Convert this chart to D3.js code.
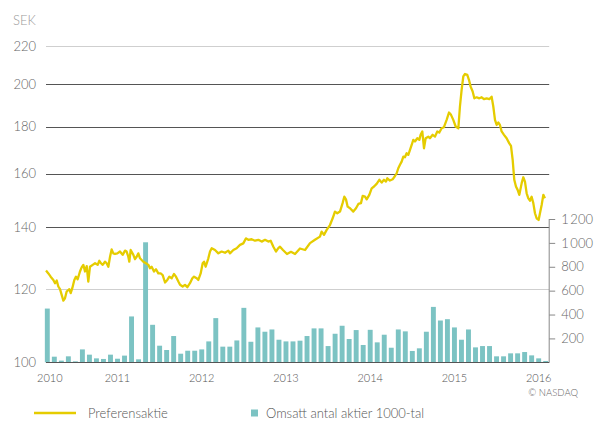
<!DOCTYPE html>
<html>
<head>
<meta charset="utf-8">
<script src="https://cdn.jsdelivr.net/npm/d3@7"></script>
<style>
  body { margin: 0; background: #fff; }
  svg text { font-family: Lato, "Open Sans", sans-serif; font-weight: 300; }
</style>
</head>
<body>
<svg id="chart" width="596" height="423"></svg>
<script>
// price, SEK (decimal year, value)
var priceTime = [2010.193,2010.221,2010.248,2010.280,2010.300,2010.320,2010.339,2010.359,2010.379,2010.399,2010.418,2010.438,2010.470,2010.486,2010.505,2010.529,2010.549,2010.569,2010.596,2010.616,2010.636,2010.656,2010.676,2010.695,2010.715,2010.747,2010.775,2010.806,2010.826,2010.846,2010.866,2010.893,2010.913,2010.933,2010.953,2010.972,2010.992,2011.012,2011.040,2011.071,2011.103,2011.131,2011.150,2011.170,2011.182,2011.198,2011.230,2011.249,2011.269,2011.289,2011.309,2011.348,2011.380,2011.408,2011.427,2011.447,2011.475,2011.499,2011.526,2011.554,2011.578,2011.606,2011.633,2011.657,2011.685,2011.712,2011.736,2011.764,2011.784,2011.815,2011.843,2011.871,2011.902,2011.930,2011.950,2011.982,2012.001,2012.029,2012.053,2012.069,2012.088,2012.120,2012.140,2012.160,2012.199,2012.239,2012.278,2012.318,2012.357,2012.377,2012.417,2012.456,2012.496,2012.535,2012.567,2012.595,2012.634,2012.674,2012.714,2012.753,2012.793,2012.832,2012.860,2012.892,2012.923,2012.951,2012.971,2013.006,2013.054,2013.101,2013.149,2013.208,2013.268,2013.327,2013.386,2013.445,2013.465,2013.493,2013.525,2013.564,2013.596,2013.623,2013.651,2013.683,2013.714,2013.734,2013.754,2013.774,2013.802,2013.841,2013.873,2013.901,2013.932,2013.952,2013.980,2014.000,2014.031,2014.059,2014.087,2014.118,2014.150,2014.178,2014.205,2014.229,2014.245,2014.276,2014.308,2014.336,2014.356,2014.375,2014.395,2014.415,2014.435,2014.454,2014.474,2014.494,2014.514,2014.534,2014.553,2014.573,2014.601,2014.625,2014.640,2014.660,2014.680,2014.700,2014.731,2014.751,2014.783,2014.811,2014.838,2014.862,2014.890,2014.917,2014.949,2014.977,2015.001,2015.028,2015.056,2015.088,2015.107,2015.127,2015.147,2015.167,2015.194,2015.214,2015.234,2015.258,2015.278,2015.305,2015.337,2015.365,2015.392,2015.424,2015.456,2015.483,2015.503,2015.523,2015.543,2015.562,2015.582,2015.602,2015.630,2015.661,2015.693,2015.713,2015.733,2015.752,2015.772,2015.792,2015.812,2015.840,2015.859,2015.879,2015.899,2015.919,2015.938,2015.958,2015.978,2015.998,2016.017,2016.041,2016.057,2016.077,2016.097,2016.116];
var priceValues = [125.7,124.8,123.8,122.8,121.8,122.6,120.8,120.0,118.3,116.6,117.3,119.3,120.0,118.8,120.3,122.8,123.8,123.0,125.4,126.7,127.5,125.4,127.1,122.3,126.9,127.5,128.0,127.5,128.8,128.0,127.5,128.5,128.0,126.9,130.1,132.5,131.2,131.0,131.2,131.8,130.7,132.1,131.8,130.1,128.5,132.3,130.7,129.3,130.1,131.2,129.6,128.5,128.0,127.5,126.4,126.9,125.4,126.1,124.8,124.8,124.3,122.0,122.8,123.8,123.3,124.6,123.8,122.3,121.3,120.8,121.3,120.6,121.8,123.3,123.8,123.3,122.8,124.8,128.0,128.5,126.9,129.6,131.8,132.9,132.3,131.2,131.8,131.4,132.1,131.2,132.3,132.9,134.0,134.5,136.2,135.7,135.9,135.4,135.7,135.1,135.7,135.1,135.4,133.4,131.8,132.9,133.4,132.3,131.0,131.7,131.0,132.8,132.3,134.6,135.7,136.8,138.5,137.4,139.1,140.8,143.2,145.6,145.0,145.6,148.7,151.1,150.1,147.4,146.8,145.6,146.8,148.4,148.7,151.4,151.1,150.1,151.8,154.3,155.0,156.0,157.6,156.5,157.6,156.9,158.2,157.3,157.8,159.1,160.2,162.2,163.6,164.9,167.0,166.7,168.4,167.7,169.8,171.9,174.1,173.4,174.8,174.1,176.3,177.8,170.5,174.8,175.5,174.8,176.3,175.5,177.8,177.3,179.2,179.7,183.0,186.4,185.3,183.0,180.0,179.2,189.2,197.2,203.9,205.2,204.7,202.2,198.8,196.4,193.1,193.6,193.1,193.6,192.7,193.1,192.7,193.9,189.2,183.0,180.7,181.8,180.7,177.8,176.3,174.8,172.6,171.5,165.6,157.6,155.0,153.7,151.8,156.3,158.6,156.9,152.4,150.5,149.6,151.1,148.7,145.0,143.2,142.6,145.0,148.0,151.8,150.5];

// monthly volume, 1000-tal, from mars 2010
var volumeValues = [450,47,14,50,8,108,64,33,28,64,30,56,384,25,1005,314,139,103,220,72,97,97,108,175,370,131,131,183,456,172,292,256,275,189,175,175,181,220,284,284,136,239,306,195,270,145,272,167,231,122,275,259,95,117,256,464,350,361,292,189,275,125,136,136,50,50,75,75,86,58,33,11];
var months = d3.timeMonth.range(new Date(2010, 2, 1), new Date(2016, 2, 1));

var priceTicks = [100, 120, 140, 160, 180, 200, 220];
var volumeTicks = [200, 400, 600, 800, 1000, 1200];
var yearLabels = [2010, 2011, 2012, 2013, 2014, 2015, 2016];

var svg = d3.select("#chart");
var left = 43.8, right = 549.2;

var x = d3.scaleLinear().domain([2010 + 2/12, 2016 + 2/12]).range([left, right]);
var xb = d3.scaleBand().domain(d3.range(months.length)).range([left, right]).paddingInner(0.3).paddingOuter(0.15);
var y = d3.scaleLog().domain([100, 220]).range([362.3, 46]);
var yv = d3.scaleLinear().domain([0, 1200]).range([362.3, 219]);

// grid lines
var lightLines = [220, 120];
svg.append("g").selectAll("line")
  .data(priceTicks)
  .enter().append("line")
    .attr("x1", 46).attr("x2", right)
    .attr("y1", function(d) { return Math.round(y(d)) + 0.5; })
    .attr("y2", function(d) { return Math.round(y(d)) + 0.5; })
    .attr("stroke", function(d) { return lightLines.indexOf(d) >= 0 ? "#cfcfcf" : "#555"; })
    .attr("stroke-width", 1);

svg.append("g").selectAll("text")
  .data(priceTicks)
  .enter().append("text")
    .attr("x", 36)
    .attr("y", function(d) { return y(d); })
    .attr("dy", "0.35em")
    .attr("text-anchor", "end")
    .attr("font-size", 13)
    .attr("fill", "#666")
    .text(function(d) { return d; });

svg.append("text")
  .attr("x", 13).attr("y", 25)
  .attr("font-size", 13)
  .attr("fill", "#9a9a9a")
  .text("SEK");

// volume bars
svg.append("g").selectAll("rect")
  .data(volumeValues)
  .enter().append("rect")
    .attr("x", function(d, i) { return xb(i); })
    .attr("width", xb.bandwidth())
    .attr("y", function(d) { return yv(d); })
    .attr("height", function(d) { return yv(0) - yv(d); })
    .attr("fill", "#7cc3c3");

// right axis
var rightAxis = d3.axisRight(yv).tickValues(volumeTicks).tickSize(6).tickPadding(6)
  .tickFormat(function(d) { return d >= 1000 ? d3.format(",")(d).replace(",", "\u2009") : d; });
var ra = svg.append("g")
  .attr("transform", "translate(" + right + ",0)")
  .call(rightAxis);
ra.select(".domain").attr("stroke", "#888").attr("d", "M0," + yv(1200) + "V" + yv(0));
ra.selectAll(".tick line").attr("stroke", "#888");
ra.selectAll(".tick text").attr("font-size", 13).attr("fill", "#666")
  .style("font-family", "Lato, 'Open Sans', sans-serif").style("font-weight", 300);

// baseline
svg.append("line")
  .attr("x1", 46).attr("x2", right)
  .attr("y1", 362.5).attr("y2", 362.5)
  .attr("stroke", "#555");

// price line
var line = d3.line()
  .x(function(d, i) { return x(priceTime[i]); })
  .y(function(d) { return y(d); });
svg.append("path")
  .datum(priceValues)
  .attr("d", line)
  .attr("fill", "none")
  .attr("stroke", "#e5cc00")
  .attr("stroke-width", 2.3)
  .attr("stroke-linejoin", "round");

// year labels
svg.append("g").selectAll("text")
  .data(yearLabels)
  .enter().append("text")
    .attr("x", function(d) { return xb(Math.max(0, (d - 2010) * 12 - 2)) + xb.bandwidth() / 2 + (d === 2010 ? 2.5 : 0); })
    .attr("y", 378)
    .attr("dy", "0.35em")
    .attr("text-anchor", "middle")
    .attr("font-size", 11)
    .attr("fill", "#555")
    .text(function(d) { return d; });

svg.append("text")
  .attr("x", 578).attr("y", 393)
  .attr("dy", "0.35em")
  .attr("text-anchor", "end")
  .attr("font-size", 9.5)
  .attr("fill", "#666")
  .text("\u00a9 NASDAQ");

// legend
svg.append("line")
  .attr("x1", 34).attr("x2", 76)
  .attr("y1", 413).attr("y2", 413)
  .attr("stroke", "#e5cc00").attr("stroke-width", 2.3);
svg.append("text")
  .attr("x", 88).attr("y", 413).attr("dy", "0.35em")
  .attr("font-size", 13).attr("fill", "#555")
  .text("Preferensaktie");
svg.append("rect")
  .attr("x", 251).attr("y", 409.5)
  .attr("width", 7).attr("height", 7)
  .attr("fill", "#7cc3c3");
svg.append("text")
  .attr("x", 266).attr("y", 413).attr("dy", "0.35em")
  .attr("font-size", 13).attr("fill", "#555")
  .text("Omsatt antal aktier 1000-tal");
</script>
</body>
</html>
